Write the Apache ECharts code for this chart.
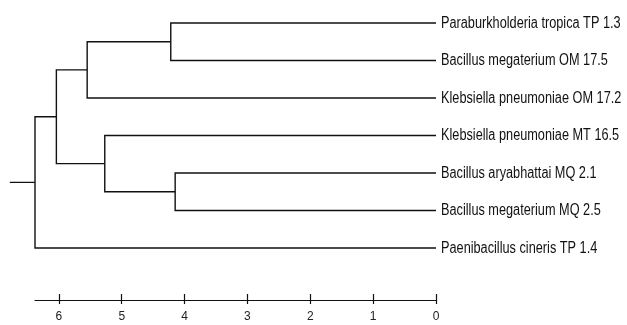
<!DOCTYPE html>
<html>
<head>
<meta charset="utf-8">
<script src="https://cdn.jsdelivr.net/npm/echarts@6/dist/echarts.min.js"></script>
<style>
  html, body { margin: 0; padding: 0; background: #fff; }
  #chart { width: 627px; height: 325px; }
</style>
</head>
<body>
<div id="chart"></div>
<script>
// leaves, top to bottom
const leaves = [
  'Paraburkholderia tropica TP 1.3',
  'Bacillus megaterium OM 17.5',
  'Klebsiella pneumoniae OM 17.2',
  'Klebsiella pneumoniae MT 16.5',
  'Bacillus aryabhattai MQ 2.1',
  'Bacillus megaterium MQ 2.5',
  'Paenibacillus cineris TP 1.4'
];
// linkage: [child a, child b, height]; 0-6 are leaves, 7+ merged nodes
const merges = [
  [0, 1, 4.22],
  [4, 5, 4.15],
  [7, 2, 5.55],
  [3, 8, 5.27],
  [9, 10, 6.04],
  [11, 6, 6.38]
];
const rootStub = 6.78;
const tickValues = [0, 1, 2, 3, 4, 5, 6];

const nodeY = leaves.map((n, i) => i);
const nodeH = leaves.map(() => 0);
const segs = [];
merges.forEach(m => {
  const [a, b, h] = m;
  segs.push([h, nodeY[a], nodeY[b], nodeH[a], nodeH[b]]);
  nodeY.push((nodeY[a] + nodeY[b]) / 2);
  nodeH.push(h);
});
const root = nodeY.length - 1;
segs.push([rootStub, nodeY[root], nodeY[root], nodeH[root], nodeH[root]]);

const font = '"Liberation Sans", Arial, sans-serif';

const myChart = echarts.init(document.getElementById('chart'));
const option = {
  animation: false,
  grid: { left: 35, right: 191, top: 23, height: 277 },
  xAxis: [
    {
      type: 'value',
      inverse: true,
      position: 'bottom',
      min: 0,
      max: 6.38,
      axisLine: { show: true, onZero: false, lineStyle: { color: '#111', width: 1.2 } },
      axisTick: { show: true, length: 4, customValues: tickValues, lineStyle: { color: '#111', width: 1.2 } },
      axisLabel: { customValues: tickValues, margin: 11, fontSize: 12, color: '#222', fontFamily: font },
      splitLine: { show: false }
    },
    {
      type: 'value',
      inverse: true,
      position: 'bottom',
      min: 0,
      max: 6.38,
      axisLine: { show: false, onZero: false },
      axisTick: { show: true, inside: true, length: 6, customValues: tickValues, lineStyle: { color: '#111', width: 1.2 } },
      axisLabel: { show: false },
      splitLine: { show: false }
    }
  ],
  yAxis: {
    type: 'value',
    inverse: true,
    min: 0,
    max: 7.387,
    show: false
  },
  series: [
    {
      type: 'custom',
      clip: false,
      data: segs,
      renderItem: function (params, api) {
        const h = api.value(0), y1 = api.value(1), y2 = api.value(2);
        const p1 = api.coord([api.value(3), y1]);
        const a = api.coord([h, y1]);
        const b = api.coord([h, y2]);
        const p2 = api.coord([api.value(4), y2]);
        return {
          type: 'polyline',
          shape: { points: [p1, a, b, p2] },
          style: { stroke: '#111', lineWidth: 1.4, fill: null }
        };
      }
    },
    {
      // leaf names, squeezed to look like a narrow face
      type: 'custom',
      clip: false,
      data: leaves.map((n, i) => [0, i]),
      renderItem: function (params, api) {
        const p = api.coord([api.value(0), api.value(1)]);
        return {
          type: 'text',
          x: p[0] + 5,
          y: p[1] + 0.5,
          scaleX: 0.795,
          style: {
            text: leaves[params.dataIndex],
            fontSize: 16,
            fontFamily: font,
            fill: '#111',
            align: 'left',
            verticalAlign: 'middle'
          }
        };
      }
    }
  ]
};
myChart.setOption(option);
</script>
</body>
</html>
